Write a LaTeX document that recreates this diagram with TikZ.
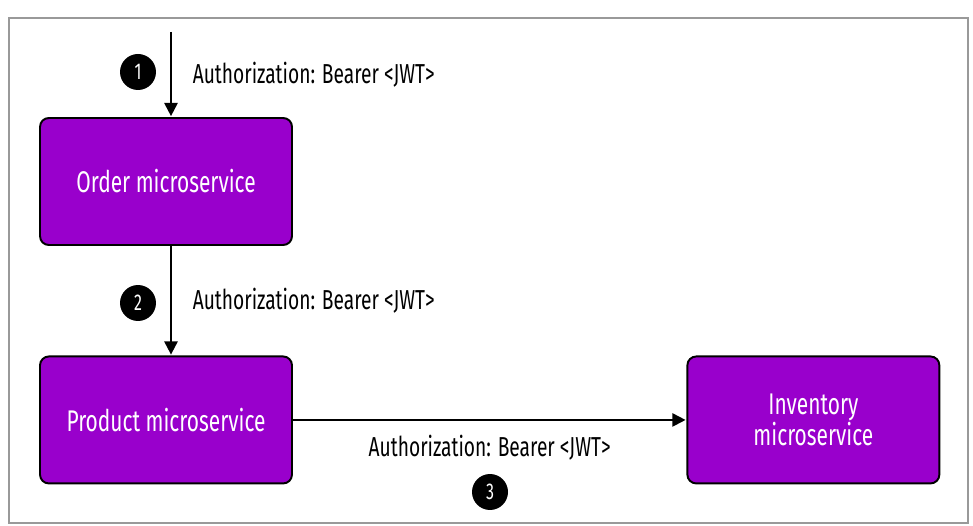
\documentclass[tikz,border=0pt]{standalone}
\usepackage{fontspec}
\setmainfont{Fira Sans}[FakeStretch=0.7]
\usetikzlibrary{arrows.meta,positioning}
\definecolor{svcpurple}{RGB}{153,0,204}
\tikzset{
  service/.style={draw=black, line width=1.1pt, fill=svcpurple, rounded corners=5pt,
    minimum width=5.04cm, minimum height=2.54cm, text=white, align=center,
    font=\fontsize{17}{15.3}\selectfont},
  badge/.style={circle, fill=black, text=white, inner sep=0pt, minimum size=0.72cm,
    font=\fontsize{13}{13}\selectfont},
  call/.style={font=\fontsize{15.6}{18}\selectfont, text=black}
}

\begin{document}
\begin{tikzpicture}[x=0.02cm,y=-0.02cm,node distance=4.77cm,on grid,
    >={Triangle[length=7.5pt,width=7.5pt]},shorten >=0.5pt]
    \useasboundingbox (0,0) rectangle (973,526);
    \draw[gray!80, line width=0.8pt] (9,18) rectangle (968,523);

    \coordinate (entry) at (171,32);
    \node[service] (order) at (166,181.5) {Order microservice};
    \node[service] (product) [below=of order] {Product microservice};
    \node[service] (inventory) [right=12.95cm of product] {Inventory\\microservice};

    \node[badge] (one) at (138,72) {1};
    \node[badge] (two) at (138,303) {2};
    \node[badge] (three) at (490,492) {3};

    \path[->, line width=1.1pt]
    (entry) edge node[call, anchor=west, xshift=0.3cm] {Authorization: Bearer <JWT>} (entry |- order.north)
    (order.south -| entry) edge node[call, anchor=west, xshift=0.3cm] {Authorization: Bearer <JWT>} (product.north -| entry)
    (product) edge node[call, yshift=-0.56cm] {Authorization: Bearer <JWT>} (inventory);

\end{tikzpicture}
\end{document}
